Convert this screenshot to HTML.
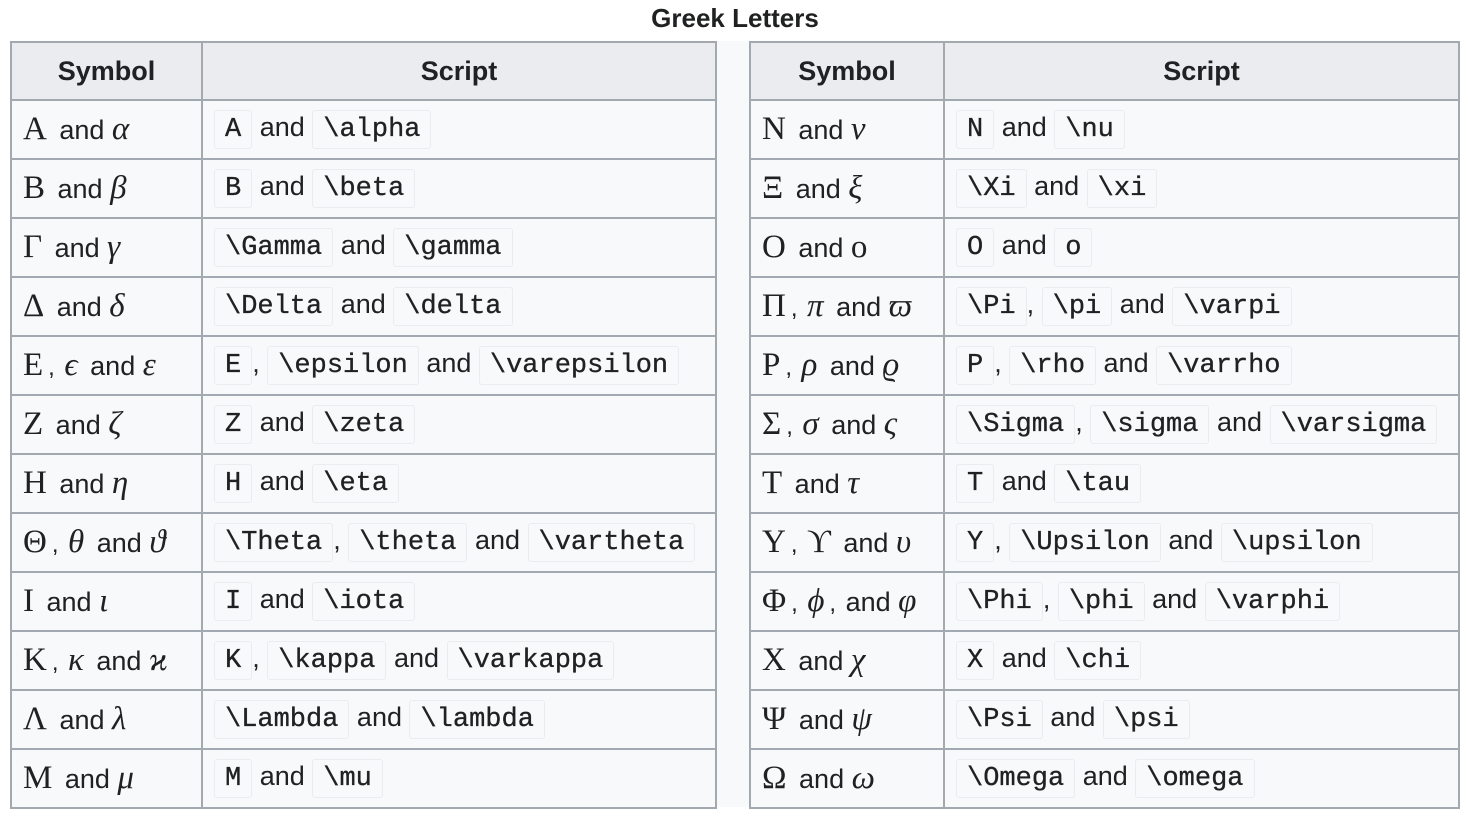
<!DOCTYPE html>
<html><head><meta charset="utf-8"><style>
body{margin:0;width:1470px;height:818px;background:#fff;font-family:"Liberation Sans",sans-serif;color:#202122;position:relative;overflow:hidden}
.title{position:absolute;top:3px;left:0;width:1470px;text-align:center;font-weight:bold;font-size:26px;line-height:30px}
.gap{position:absolute;left:715px;top:41px;width:34px;height:766px;background:#f8f9fa;border-left:2px solid #a2a9b1;box-sizing:border-box}
table{position:absolute;top:41px;border-collapse:collapse;table-layout:fixed;background:#f8f9fa}
td,th{border:2px solid #a2a9b1;white-space:nowrap;padding:0 0 0 11px;height:59px;font-size:27px;box-sizing:border-box}
th{background:#eaecf0;font-weight:bold;text-align:center;padding:0;height:58px}
m{font-family:"Liberation Serif","DejaVu Serif",serif;font-size:33px;margin-right:5px}
m i{font-style:italic}
s{text-decoration:none;font-size:24px;margin-right:2px}
c{font-family:"Liberation Mono",monospace;font-size:27px;-webkit-text-stroke:0.3px #202122;background:#f8f9fa;border:1px solid #eaecf0;border-radius:3px;padding:5px 10px 4px;display:inline-block;line-height:28px}
</style></head><body>
<div class="title">Greek Letters</div>
<div class="gap"></div>
<table style="left:10px;width:705px">
<colgroup><col style="width:191px"><col style="width:514px"></colgroup>
<tr><th>Symbol</th><th>Script</th></tr>
<tr><td><m>Α</m> and <m><i>α</i></m></td><td><c>A</c> and <c>\alpha</c></td></tr>
<tr><td><m>Β</m> and <m><i>β</i></m></td><td><c>B</c> and <c>\beta</c></td></tr>
<tr><td><m>Γ</m> and <m><i>γ</i></m></td><td><c>\Gamma</c> and <c>\gamma</c></td></tr>
<tr><td><m>Δ</m> and <m><i>δ</i></m></td><td><c>\Delta</c> and <c>\delta</c></td></tr>
<tr><td><m>Ε</m><s>,</s> <m><i>ϵ</i></m> and <m><i>ε</i></m></td><td><c>E</c>, <c>\epsilon</c> and <c>\varepsilon</c></td></tr>
<tr><td><m>Ζ</m> and <m><i>ζ</i></m></td><td><c>Z</c> and <c>\zeta</c></td></tr>
<tr><td><m>Η</m> and <m><i>η</i></m></td><td><c>H</c> and <c>\eta</c></td></tr>
<tr><td><m>Θ</m><s>,</s> <m><i>θ</i></m> and <m><i>ϑ</i></m></td><td><c>\Theta</c>, <c>\theta</c> and <c>\vartheta</c></td></tr>
<tr><td><m>Ι</m> and <m><i>ι</i></m></td><td><c>I</c> and <c>\iota</c></td></tr>
<tr><td><m>Κ</m><s>,</s> <m><i>κ</i></m> and <m><i>ϰ</i></m></td><td><c>K</c>, <c>\kappa</c> and <c>\varkappa</c></td></tr>
<tr><td><m>Λ</m> and <m><i>λ</i></m></td><td><c>\Lambda</c> and <c>\lambda</c></td></tr>
<tr><td><m>Μ</m> and <m><i>μ</i></m></td><td><c>M</c> and <c>\mu</c></td></tr>
</table>
<table style="left:749px;width:709px">
<colgroup><col style="width:194px"><col style="width:515px"></colgroup>
<tr><th>Symbol</th><th>Script</th></tr>
<tr><td><m>Ν</m> and <m><i>ν</i></m></td><td><c>N</c> and <c>\nu</c></td></tr>
<tr><td><m>Ξ</m> and <m><i>ξ</i></m></td><td><c>\Xi</c> and <c>\xi</c></td></tr>
<tr><td><m>Ο</m> and <m>ο</m></td><td><c>O</c> and <c>o</c></td></tr>
<tr><td><m>Π</m><s>,</s> <m><i>π</i></m> and <m><i>ϖ</i></m></td><td><c>\Pi</c>, <c>\pi</c> and <c>\varpi</c></td></tr>
<tr><td><m>Ρ</m><s>,</s> <m><i>ρ</i></m> and <m><i>ϱ</i></m></td><td><c>P</c>, <c>\rho</c> and <c>\varrho</c></td></tr>
<tr><td><m>Σ</m><s>,</s> <m><i>σ</i></m> and <m><i>ς</i></m></td><td><c>\Sigma</c>, <c>\sigma</c> and <c>\varsigma</c></td></tr>
<tr><td><m>Τ</m> and <m><i>τ</i></m></td><td><c>T</c> and <c>\tau</c></td></tr>
<tr><td><m>Υ</m><s>,</s> <m>ϒ</m> and <m><i>υ</i></m></td><td><c>Y</c>, <c>\Upsilon</c> and <c>\upsilon</c></td></tr>
<tr><td><m>Φ</m><s>,</s> <m><i>ϕ</i></m><s>,</s> and <m><i>φ</i></m></td><td><c>\Phi</c>, <c>\phi</c> and <c>\varphi</c></td></tr>
<tr><td><m>Χ</m> and <m><i>χ</i></m></td><td><c>X</c> and <c>\chi</c></td></tr>
<tr><td><m>Ψ</m> and <m><i>ψ</i></m></td><td><c>\Psi</c> and <c>\psi</c></td></tr>
<tr><td><m>Ω</m> and <m><i>ω</i></m></td><td><c>\Omega</c> and <c>\omega</c></td></tr>
</table>
</body></html>
